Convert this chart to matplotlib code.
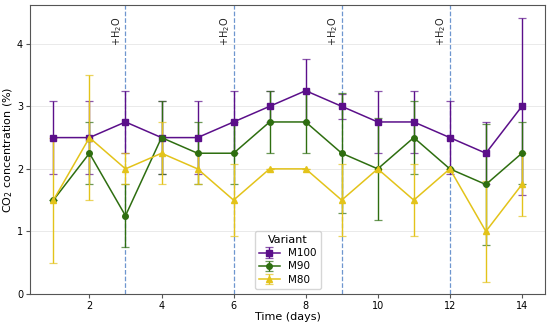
import matplotlib
matplotlib.use("Agg")
import matplotlib.pyplot as plt
import numpy as np

days = [1, 2, 3, 4, 5, 6, 7, 8, 9, 10, 11, 12, 13, 14]
m100 = [2.5, 2.5, 2.75, 2.5, 2.5, 2.75, 3.0, 3.25, 3.0, 2.75, 2.75, 2.5, 2.25, 3.0]
m100_err = [0.58, 0.58, 0.5, 0.58, 0.58, 0.5, 0.25, 0.5, 0.2, 0.5, 0.5, 0.58, 0.5, 1.41]
m90 = [1.5, 2.25, 1.25, 2.5, 2.25, 2.25, 2.75, 2.75, 2.25, 2.0, 2.5, 2.0, 1.75, 2.25]
m90_err = [0.0, 0.5, 0.5, 0.58, 0.5, 0.5, 0.5, 0.5, 0.96, 0.81, 0.58, 0.0, 0.96, 0.5]
m80 = [1.5, 2.5, 2.0, 2.25, 2.0, 1.5, 2.0, 2.0, 1.5, 2.0, 1.5, 2.0, 1.0, 1.75]
m80_err = [1.0, 1.0, 0.25, 0.5, 0.25, 0.57, 0.0, 0.0, 0.57, 0.0, 0.57, 0.0, 0.81, 0.5]
water_days = [3, 6, 9, 12]

fig = plt.figure(figsize=(5.5, 3.31), dpi=100)
ax = fig.add_axes([0.0545, 0.112, 0.937, 0.873])

series = [
    ("M100", m100, m100_err, "#5b0f8a", "s"),
    ("M90", m90, m90_err, "#2e6e10", "o"),
    ("M80", m80, m80_err, "#e3c31a", "^"),
]
for name, vals, errs, col, mk in series:
    eb = ax.errorbar(days, vals, yerr=errs, color=col, marker=mk, markersize=4,
                     linewidth=1.1, capsize=3, elinewidth=1, capthick=0.9,
                     label=name)
    for c in eb[1]:
        c.set_alpha(0.7)

ax.set_ylim(bottom=0)
for d in water_days:
    ax.axvline(d, color="#4a7cc4", linestyle="--", linewidth=0.9, alpha=0.8, zorder=0.5)
    ax.text(d - 0.05, 4.44, "+H$_2$O", rotation=90, ha="right", va="top", fontsize=7,
            color="#222222")

ax.grid(axis="y", color="#e6e6e6", linewidth=0.6)
ax.set_axisbelow(True)
ax.set_xticks([2, 4, 6, 8, 10, 12, 14])
ax.set_yticks([0, 1, 2, 3, 4])
ax.tick_params(labelsize=7, color="#555555", length=3, pad=2)
for s in ax.spines.values():
    s.set_color("#555555")
ax.set_xlabel("Time (days)", fontsize=8, labelpad=1)
ax.set_ylabel("CO$_2$ concentration (%)", fontsize=8, labelpad=1)
leg = ax.legend(title="Variant", loc="lower center", fontsize=7.5, title_fontsize=8,
                handlelength=2, borderpad=0.4, labelspacing=0.3)
fig.savefig("out.png", dpi=100)
